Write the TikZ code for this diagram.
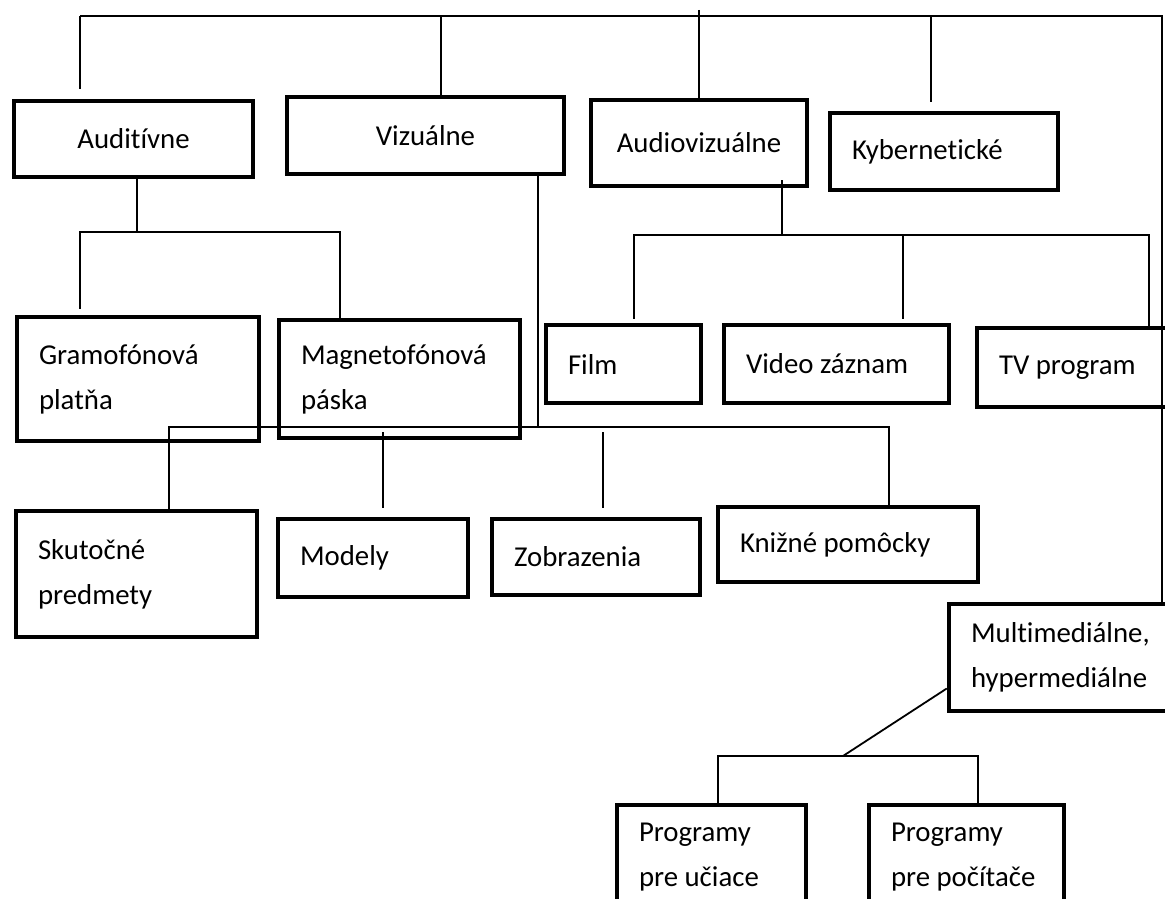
\documentclass[tikz,border=0pt]{standalone}
\usepackage{fontspec}
\setmainfont{Carlito}[Ligatures=NoCommon]

\begin{document}
\begin{tikzpicture}[%
  x=1pt,y=-1pt,
  box/.style={draw,line width=4.5pt,inner xsep=0pt,inner ysep=0pt,align=left,
    font=\fontsize{28.8}{45}\selectfont,
    execute at begin node={\spaceskip=0pt\xspaceskip=0pt\relax}},
  con/.style={line width=1.8pt}]
  \useasboundingbox (0,0) rectangle (1165,899);
  % boxes
  \node[box,align=center,minimum width=239,minimum height=76,text width=195pt] (aud) at (133.5,139) {Auditívne};
  \node[box,align=center,minimum width=277,minimum height=77,text width=233pt] (viz) at (425.5,135.5) {Vizuálne};
  \node[box,align=center,minimum width=216,minimum height=86,text width=172pt] (av) at (699,143) {Audiovizuálne};
  \node[box,minimum width=228,minimum height=77,text width=184pt] (kyb) at (944,151.5) {Kybernetické};
  \node[box,minimum width=242,minimum height=124,text width=198pt] (gram) at (138,379) {Gramofónová\\platňa};
  \node[box,minimum width=241,minimum height=118,text width=197pt] (magn) at (399.5,379) {Magnetofónová\\páska};
  \node[box,minimum width=155,minimum height=78,text width=111pt] (film) at (623.5,364) {Film};
  \node[box,minimum width=225,minimum height=78,text width=181pt] (video) at (836.5,364) {Video záznam};
  \node[box,minimum width=198,minimum height=79,text width=154pt] (tv) at (1076,367.5) {TV program};
  \node[box,minimum width=241,minimum height=126,text width=197pt] (skut) at (136.5,574) {Skutočné\\predmety};
  \node[box,minimum width=190,minimum height=78,text width=146pt] (mod) at (373,558) {Modely};
  \node[box,minimum width=208,minimum height=76,text width=164pt] (zobr) at (596,557) {Zobrazenia};
  \node[box,minimum width=260,minimum height=75,text width=216pt] (kniz) at (848,544.5) {Knižné pomôcky};
  \node[box,minimum width=226,minimum height=107,text width=182pt] (multi) at (1062,657.5) {Multimediálne,\\hypermediálne};
  \node[box,minimum width=189,minimum height=104,text width=145pt] (pu) at (711.5,857) {Programy\\pre učiace};
  \node[box,minimum width=195,minimum height=104,text width=151pt] (pp) at (966.5,857) {Programy\\pre počítače};
  % top level
  \coordinate (t0) at (80,16); \coordinate (t1) at (441,16);
  \coordinate (t2) at (699,10); \coordinate (t3) at (931,16);
  \coordinate (t4) at (1162,16);
  \draw[con] (t0) -- (t4) -- (t4 |- multi.north);
  \draw[con,shorten >=10pt] (t0) -- (t0 |- aud.north);
  \draw[con] (t1) -- (t1 |- viz.north);
  \draw[con] (t2) -- (av.north);
  \draw[con,shorten >=9pt] (t3) -- (t3 |- kyb.north);
  % auditivne
  \coordinate (a0) at (80,232); \coordinate (a1) at (137,232);
  \coordinate (a2) at (340,232);
  \draw[con] (a1 |- aud.south) -- (a1);
  \draw[con,shorten <=6pt] (a0 |- gram.north) -- (a0) -- (a2) -- (a2 |- magn.north);
  % vizualne
  \coordinate (v0) at (169,427); \coordinate (v1) at (538,427);
  \coordinate (v2) at (383,427); \coordinate (v3) at (603,427);
  \coordinate (v4) at (889,427);
  \draw[con] (v1 |- viz.south) -- (v1);
  \draw[con] (v0 |- skut.north) -- (v0) -- (v4) -- (v4 |- kniz.north);
  \draw[con,shorten <=5pt,shorten >=9pt] (v2) -- (v2 |- mod.north);
  \draw[con,shorten <=5pt,shorten >=9pt] (v3) -- (v3 |- zobr.north);
  % audiovizualne
  \coordinate (w0) at (634,235); \coordinate (w1) at (782,235);
  \coordinate (w2) at (903,235); \coordinate (w3) at (1149,235);
  \draw[con] ([yshift=8pt]w1 |- av.south) -- (w1);
  \draw[con,shorten <=4pt] (w0 |- film.north) -- (w0) -- (w3) -- (w3 |- tv.north);
  \draw[con,shorten >=4pt] (w2) -- (w2 |- video.north);
  % multimedialne
  \coordinate (m0) at (718,756); \coordinate (m1) at (843,756);
  \coordinate (m2) at (978,756);
  \draw[con] ([yshift=-31pt]multi.west) -- (m1);
  \draw[con] (m0 |- pu.north) -- (m0) -- (m2) -- (m2 |- pp.north);
\end{tikzpicture}
\end{document}
